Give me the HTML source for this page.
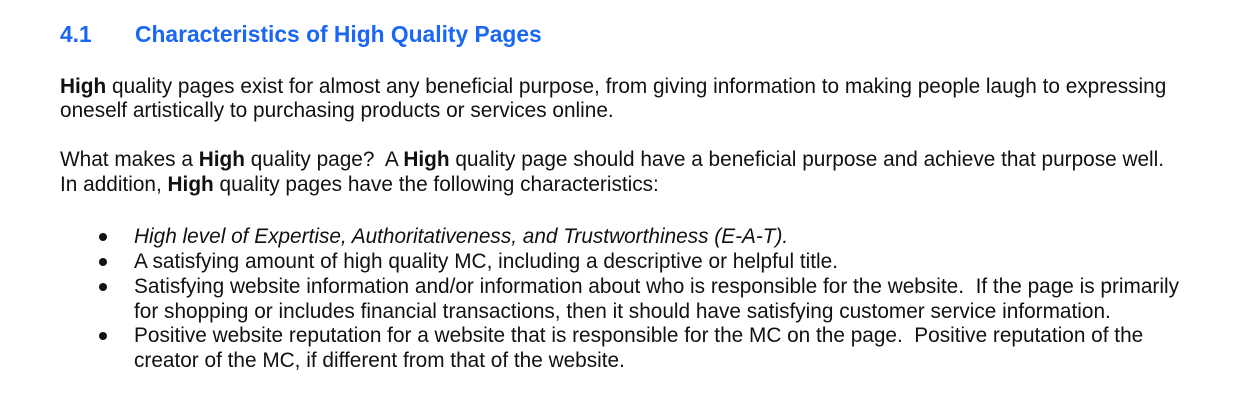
<!DOCTYPE html>
<html><head><meta charset="utf-8"><style>
html,body{margin:0;padding:0;background:#fff;}
body{width:1236px;height:406px;position:relative;overflow:hidden;font-family:"Liberation Sans",Arial,sans-serif;color:#111;}
.l{position:absolute;white-space:nowrap;font-size:20.8px;line-height:24px;}
.h{position:absolute;white-space:nowrap;font-size:22.8px;font-weight:bold;color:#1a66f5;line-height:26px;}
.d{position:absolute;left:99px;width:8px;height:8px;border-radius:50%;background:#111;}
</style></head><body>
<div class="h" style="left:60px;top:21px">4.1</div>
<div class="h" style="left:135px;top:21px">Characteristics of High Quality Pages</div>

<div>
<div class="l" style="left:60px;top:75px"><b>High</b> quality pages exist for almost any beneficial purpose, from giving information to making people laugh to expressing</div>
<div class="l" style="left:60px;top:99px">oneself artistically to purchasing products or services online.</div>
</div>

<div>
<div class="l" style="left:60px;top:148px">What makes a <b>High</b> quality page?&nbsp; A <b>High</b> quality page should have a beneficial purpose and achieve that purpose well.</div>
<div class="l" style="left:60px;top:173px">In addition, <b>High</b> quality pages have the following characteristics:</div>
</div>

<div>
<div class="d" style="top:233px"></div>
<div class="l" style="left:134px;top:225px"><i>High level of Expertise, Authoritativeness, and Trustworthiness (E-A-T).</i></div>
<div class="d" style="top:258px"></div>
<div class="l" style="left:134px;top:250px">A satisfying amount of high quality MC, including a descriptive or helpful title.</div>
<div class="d" style="top:283px"></div>
<div class="l" style="left:134px;top:275px">Satisfying website information and/or information about who is responsible for the website.&nbsp; If the page is primarily</div>
<div class="l" style="left:134px;top:300px">for shopping or includes financial transactions, then it should have satisfying customer service information.</div>
<div class="d" style="top:332px"></div>
<div class="l" style="left:134px;top:324px">Positive website reputation for a website that is responsible for the MC on the page.&nbsp; Positive reputation of the</div>
<div class="l" style="left:134px;top:349px">creator of the MC, if different from that of the website.</div>
</div>
</body></html>
